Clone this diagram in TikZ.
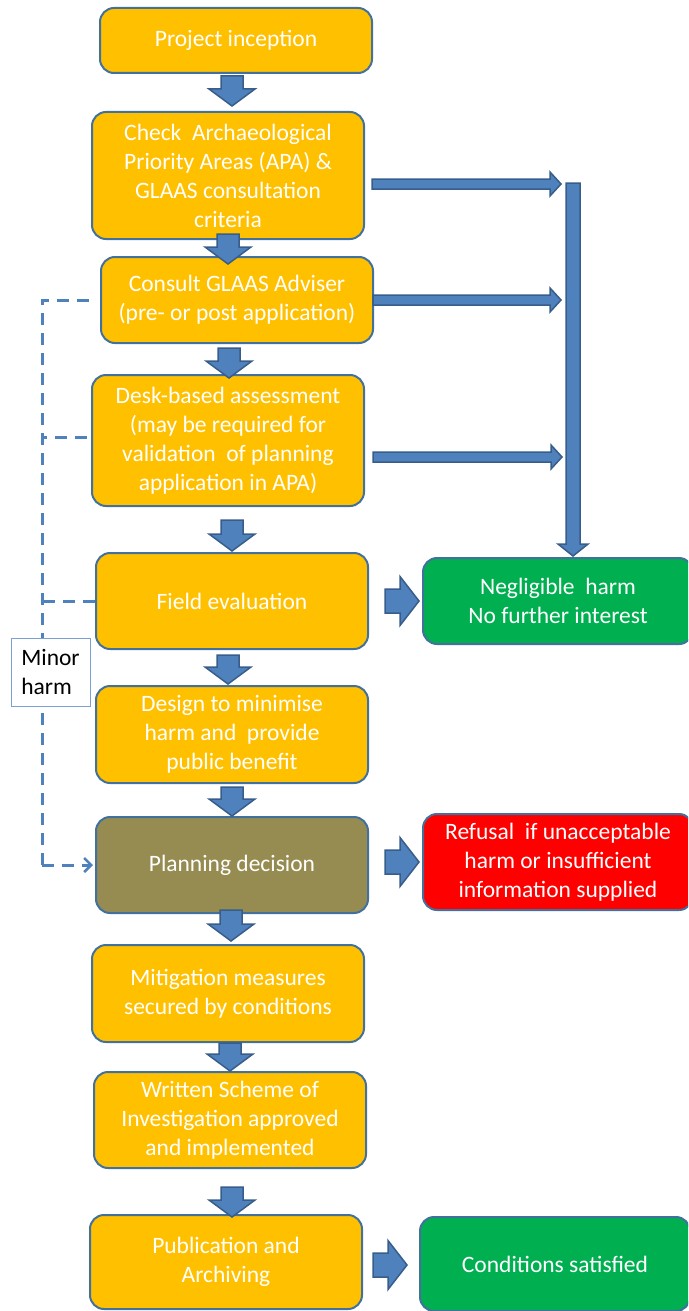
\documentclass[tikz,border=0pt]{standalone}
\usepackage{fontspec}
\setmainfont{Carlito}
\usetikzlibrary{calc,arrows.meta}
\definecolor{boxorange}{HTML}{FFC000}
\definecolor{boxline}{HTML}{41719C}
\definecolor{arrfill}{HTML}{4F81BD}
\definecolor{arrline}{HTML}{385D8A}
\definecolor{boxgreen}{HTML}{00B050}
\definecolor{boxred}{HTML}{FF0000}
\definecolor{boxolive}{HTML}{968C52}
\definecolor{minorline}{HTML}{7BA0D4}
\tikzset{
  stage/.style={draw=boxline, line width=2pt, rounded corners=14pt, fill=boxorange,
    text=white, align=center, font=\fontsize{23.5}{29}\selectfont, inner sep=0pt,
    minimum width=272pt},
  outcome/.style={stage, minimum width=270pt},
  blockarr/.style={fill=arrfill, draw=arrline, line width=1.5pt, line join=miter},
  dashline/.style={draw=arrfill, line width=3pt, dash pattern=on 12pt off 8pt},
  notebox/.style={draw=minorline, line width=1pt, fill=white, text=black, align=left,
    font=\fontsize{23.5}{29}\selectfont, inner sep=0pt, minimum width=79pt, minimum height=68pt}
}
% vertical block arrow: start, tip, shaft half width, head half width, head length
\newcommand\vblk[5]{%
  \filldraw[blockarr] let \p1=#1, \p2=#2 in
  ({\x1-#3pt},\y1) -- ({\x1+#3pt},\y1) -- ({\x1+#3pt},{\y2+#5pt}) -- ({\x1+#4pt},{\y2+#5pt})
  -- (\x1,\y2) -- ({\x1-#4pt},{\y2+#5pt}) -- ({\x1-#3pt},{\y2+#5pt}) -- cycle;}
% horizontal block arrow (to the right)
\newcommand\hblk[5]{%
  \filldraw[blockarr] let \p1=#1, \p2=#2 in
  (\x1,{\y1+#3pt}) -- ({\x2-#5pt},{\y1+#3pt}) -- ({\x2-#5pt},{\y1+#4pt}) -- (\x2,\y1)
  -- ({\x2-#5pt},{\y1-#4pt}) -- ({\x2-#5pt},{\y1-#3pt}) -- (\x1,{\y1-#3pt}) -- cycle;}
\begin{document}
\begin{tikzpicture}[x=1pt,y=-1pt]
\useasboundingbox (0,0) rectangle (688,1311);
\clip (0,0) rectangle (688,1311);

% dashed feedback line
\coordinate (dtop) at (42,300);
\coordinate (dbot) at (42,865);

% stages
\node[stage, minimum height=65pt] (b1) at (236,40.5) {Project inception};
\node[stage, minimum height=127pt] (b2) at (228,175.5) {Check\ \ Archaeological\\Priority Areas (APA) \&\\GLAAS consultation\\criteria};
\node[stage, minimum height=86pt] (b3) at (237,300) {Consult GLAAS Adviser\\(pre- or post application)};
\node[stage, minimum height=131pt] (b4) at (228,440.5) {Desk-based assessment\\(may be required for\\validation\ \ of planning\\application in APA)};
\node[stage, minimum height=96pt] (b5) at (232,601) {Field evaluation};
\node[outcome, fill=boxgreen, minimum height=86pt] (neg) at (558,601) {Negligible\ \ harm\\No further interest};
\node[stage, minimum height=97pt] (b6) at (232,734.5) {Design to minimise\\harm and\ \ provide\\public benefit};
\node[stage, fill=boxolive, minimum height=96pt] (b7) at (232,865) {Planning decision};
\node[outcome, fill=boxred, minimum height=96pt] (ref) at (558,862) {Refusal\ \ if unacceptable\\harm or insufficient\\information supplied};
\node[stage, minimum height=97pt] (b8) at (228,993.5) {Mitigation measures\\secured by conditions};
\node[stage, minimum height=96pt] (b9) at (230,1120) {Written Scheme of\\Investigation approved\\and implemented};
\node[stage, minimum height=94pt] (b10) at (226,1262) {Publication and\\Archiving};
\node[outcome, fill=boxgreen, minimum height=94pt] (cond) at (555,1264) {Conditions satisfied};

% dashed lines
\draw[dashline] ($(b3.west)+(-11,0)$) -| (dbot);
\coordinate (d4) at ($(b4.west)+(-4,-3.5)$);
\draw[dashline] (d4) -- (d4 -| dtop);
\draw[dashline] (b5.west) -- (b5.west -| dtop);
\draw[dashline, -{Straight Barb[length=7pt,width=14pt,line width=2.5pt]}] (dbot) -- ($(b7.west)+(-2,0)$);
\node[notebox] (minor) at (50.5,672) {Minor\\harm};

% down block arrows
\vblk{($(b1.south)+(-4,2)$)}{($(b2.north)+(0,-5)$)}{11}{23}{17}
\vblk{($(b2.south)+(0,-6)$)}{($(b3.north)+(0,8)$)}{11}{23}{17}
\vblk{($(b3.south)+(-8,4)$)}{($(b4.north)+(0,4)$)}{11}{23}{17}
\vblk{($(b4.south)+(4,13)$)}{($(b5.north)+(0,-1)$)}{11}{23}{17}
\vblk{($(b5.south)+(-4,5)$)}{($(b6.north)+(0,-1)$)}{11}{23}{17}
\vblk{($(b6.south)+(0,3)$)}{(b7.north)}{11}{23}{17}
\vblk{($(b7.south)+(-1,-4)$)}{($(b8.north)+(0,-3)$)}{11}{23}{17}
\vblk{($(b8.south)+(2,0)$)}{(b9.north)}{11}{23}{17}
\vblk{($(b9.south)+(2,18)$)}{($(b10.north)+(0,3)$)}{11}{23}{17}

% right block arrows
\hblk{($(b5.east)+(16,0)$)}{($(neg.west)+(-3,0)$)}{12}{24.5}{19}
\hblk{($(b7.east)+(16,-3)$)}{($(ref.west)+(-3,0)$)}{12}{24.5}{19}
\hblk{($(b10.east)+(10,3)$)}{($(cond.west)+(-12,0)$)}{12}{24.5}{19}

% thin arrows to collecting bar
\coordinate (bartop) at (573,183);
\coordinate (bartip) at ($(neg.north)+(15,-1)$);
\hblk{($(b2.east)+(7,8.5)$)}{($(bartop)+(-12,0)$)}{5}{12}{11}
\hblk{($(b3.east)+(-1,0)$)}{($(bartop)+(-12,0)$)}{5}{12}{11}
\hblk{($(b4.east)+(8,16.5)$)}{($(bartop)+(-11,0)$)}{5}{12}{11}
\vblk{(bartop)}{(bartip)}{7}{15}{12}
\end{tikzpicture}
\end{document}
